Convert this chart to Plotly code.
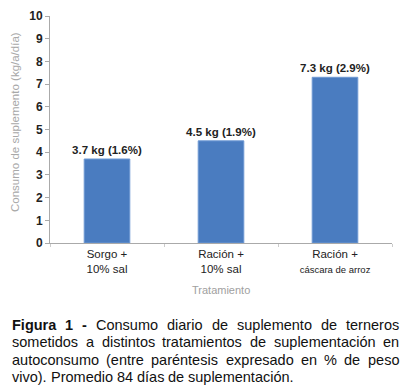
import plotly.graph_objects as go

categories = ["Sorgo +<br>10% sal", "Ración +<br>10% sal",
              "Ración +<br><span style='font-size:9.5px'>cáscara de arroz</span>"]
consumo = [3.7, 4.5, 7.3]
labels = ["3.7 kg (1.6%)", "4.5 kg (1.9%)", "7.3 kg (2.9%)"]
yticks = list(range(0, 11))

# caption: list of lines, each a list of (word, bold)
caption_lines = [
    [("Figura", True), ("1", True), ("-", True), ("Consumo", False), ("diario", False),
     ("de", False), ("suplemento", False), ("de", False), ("terneros", False)],
    [(w, False) for w in "sometidos a distintos tratamientos de suplementación en".split()],
    [(w, False) for w in "autoconsumo (entre paréntesis expresado en % de peso".split()],
    [(w, False) for w in "vivo). Promedio 84 días de suplementación.".split()],
]

FONT = "Liberation Sans, Arial, sans-serif"

# Arial / Liberation Sans advance widths (per 1000 em) for layout of justified text
REG = dict(a=556, b=556, c=500, d=556, e=556, f=278, g=556, h=556, i=222, j=222, k=500,
           l=222, m=833, n=556, o=556, p=556, q=556, r=333, s=500, t=278, u=556, v=500,
           w=722, x=500, y=500, z=500, C=722, F=611, P=667)
REG.update({"á": 556, "é": 556, "í": 278, "ó": 556, "(": 333, ")": 333, ".": 278,
            "%": 889, "-": 333, " ": 278})
for dgt in "0123456789":
    REG[dgt] = 556
BOLD = dict(REG)
BOLD.update(dict(F=611, i=278, g=611, u=611, r=389, a=556))
BOLD["-"] = 333


def width(word, bold, size):
    tbl = BOLD if bold else REG
    return sum(tbl.get(ch, 556) for ch in word) * size / 1000.0


fig = go.Figure(go.Bar(
    x=categories, y=consumo, text=labels, textposition="outside",
    textfont=dict(family=FONT, size=11.5, color="#222", weight="bold"),
    marker=dict(color="#4a7cc0", line=dict(color="#6d98d3", width=1)),
    width=0.4, cliponaxis=False, constraintext="none", hoverinfo="skip",
))

L, R, T, B = 50, 14, 16, 149
PW, PH = 406 - L - R, 392 - T - B

fig.update_layout(
    width=406, height=392,
    margin=dict(l=L, r=R, t=T, b=B, autoexpand=False),
    plot_bgcolor="white", paper_bgcolor="white",
    showlegend=False,
    xaxis=dict(
        showline=True, linecolor="#aaa", linewidth=1, automargin=False,
        ticks="outside", tickson="boundaries", ticklen=3, tickcolor="#ccc",
        tickfont=dict(family=FONT, size=11.5, color="#222"),
    ),
    yaxis=dict(
        range=[0, 10], tickvals=yticks, showgrid=False, zeroline=False,
        showline=True, linecolor="#aaa", linewidth=1, automargin=False,
        ticks="outside", ticklen=4, tickcolor="#aaa",
        tickfont=dict(family=FONT, size=12, color="#222", weight="bold"),
    ),
)


def px_x(x):
    return (x - L) / PW


def px_y(y):
    return (392 - B - y) / PH


# axis titles
fig.add_annotation(text="Consumo de suplemento (kg/a/día)", textangle=-90,
                   xref="paper", yref="paper", x=px_x(15), y=px_y(122),
                   xanchor="center", yanchor="middle", showarrow=False,
                   font=dict(family=FONT, size=11.5, color="#a8a8a8"))
fig.add_annotation(text="Tratamiento", xref="paper", yref="paper",
                   x=px_x(221), y=px_y(290), xanchor="center", yanchor="middle",
                   showarrow=False, font=dict(family=FONT, size=11, color="#a0a0a0"))

# justified caption
CS = 14.5
X0, X1 = 12, 399
ys = [325, 342, 360, 377]
for idx, (words, ypx) in enumerate(zip(caption_lines, ys)):
    ws = [width(w, b, CS) for w, b in words]
    last = idx == len(caption_lines) - 1
    if last:
        gap = width(" ", False, CS)
    else:
        gap = (X1 - X0 - sum(ws)) / (len(words) - 1)
    x = X0
    for (w, b), wd in zip(words, ws):
        fig.add_annotation(
            text=f"<b>{w}</b>" if b else w, xref="paper", yref="paper",
            x=px_x(x), y=px_y(ypx), xanchor="left", yanchor="middle",
            showarrow=False, font=dict(family=FONT, size=CS, color="#111"),
            borderpad=0, xshift=-1,
        )
        x += wd + gap

fig.write_html(
    "out.html",
    config={"displayModeBar": False},
    post_script="document.body.style.margin='0';document.body.style.overflow='hidden';",
)
